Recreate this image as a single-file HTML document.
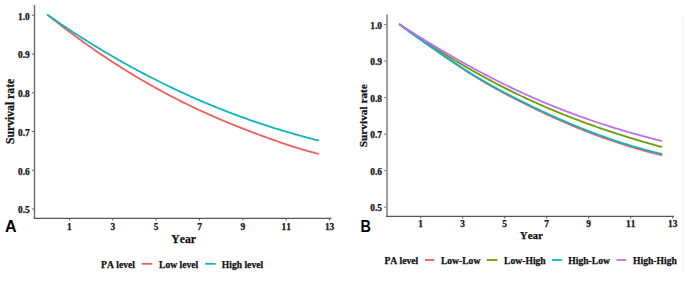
<!DOCTYPE html>
<html><head><meta charset="utf-8"><style>
html,body{margin:0;padding:0;background:#fff;}
body{width:685px;height:290px;overflow:hidden;}
svg{display:block;}
.s{font-family:"Liberation Serif",serif;font-weight:bold;fill:#111;stroke:#111;stroke-width:0.25px;font-kerning:none;}
.tk{font-size:9.4px;}
.lab{font-size:11.7px;}
.lg{font-size:9.6px;}
.pan{font-family:"Liberation Sans",sans-serif;font-weight:bold;font-size:16px;fill:#000;}
</style></head><body>
<svg width="685" height="290" viewBox="0 0 685 290">
<rect width="685" height="290" fill="#fff"/>

<line x1="34.5" y1="5" x2="34.5" y2="219" stroke="#6a6a6a" stroke-width="1.4"/>
<line x1="33.8" y1="218.4" x2="331.5" y2="218.4" stroke="#555" stroke-width="1.3"/>
<line x1="31.8" y1="15.30" x2="34" y2="15.30" stroke="#666" stroke-width="1"/>
<text class="s tk" x="29.8" y="19.60" text-anchor="end">1.0</text>
<line x1="31.8" y1="54.04" x2="34" y2="54.04" stroke="#666" stroke-width="1"/>
<text class="s tk" x="29.8" y="58.34" text-anchor="end">0.9</text>
<line x1="31.8" y1="92.78" x2="34" y2="92.78" stroke="#666" stroke-width="1"/>
<text class="s tk" x="29.8" y="97.08" text-anchor="end">0.8</text>
<line x1="31.8" y1="131.52" x2="34" y2="131.52" stroke="#666" stroke-width="1"/>
<text class="s tk" x="29.8" y="135.82" text-anchor="end">0.7</text>
<line x1="31.8" y1="170.26" x2="34" y2="170.26" stroke="#666" stroke-width="1"/>
<text class="s tk" x="29.8" y="174.56" text-anchor="end">0.6</text>
<line x1="31.8" y1="209.00" x2="34" y2="209.00" stroke="#666" stroke-width="1"/>
<text class="s tk" x="29.8" y="213.30" text-anchor="end">0.5</text>
<line x1="69.43" y1="218.5" x2="69.43" y2="220.5" stroke="#555" stroke-width="1"/>
<text class="s tk" x="69.43" y="229.9" text-anchor="middle">1</text>
<line x1="112.79" y1="218.5" x2="112.79" y2="220.5" stroke="#555" stroke-width="1"/>
<text class="s tk" x="112.79" y="229.9" text-anchor="middle">3</text>
<line x1="156.15" y1="218.5" x2="156.15" y2="220.5" stroke="#555" stroke-width="1"/>
<text class="s tk" x="156.15" y="229.9" text-anchor="middle">5</text>
<line x1="199.51" y1="218.5" x2="199.51" y2="220.5" stroke="#555" stroke-width="1"/>
<text class="s tk" x="199.51" y="229.9" text-anchor="middle">7</text>
<line x1="242.87" y1="218.5" x2="242.87" y2="220.5" stroke="#555" stroke-width="1"/>
<text class="s tk" x="242.87" y="229.9" text-anchor="middle">9</text>
<line x1="286.23" y1="218.5" x2="286.23" y2="220.5" stroke="#555" stroke-width="1"/>
<text class="s tk" x="286.23" y="229.9" text-anchor="middle">11</text>
<line x1="329.59" y1="218.5" x2="329.59" y2="220.5" stroke="#555" stroke-width="1"/>
<text class="s tk" x="329.59" y="229.9" text-anchor="middle">13</text>
<text class="s lab" x="183.6" y="242.8" text-anchor="middle">Year</text>
<text class="s lab" transform="translate(13.6,111.4) rotate(-90)" text-anchor="middle">Survival rate</text>
<text class="pan" x="5" y="231.6">A</text>
<path d="M47.70,14.89 L49.20,16.10 L50.70,17.29 L52.20,18.48 L53.70,19.67 L55.20,20.85 L56.70,22.03 L58.20,23.20 L59.70,24.36 L61.20,25.52 L62.70,26.67 L64.20,27.82 L65.70,28.96 L67.20,30.10 L68.70,31.23 L70.20,32.35 L71.70,33.47 L73.20,34.59 L74.70,35.70 L76.20,36.80 L77.70,37.90 L79.20,38.99 L80.70,40.08 L82.20,41.16 L83.70,42.24 L85.20,43.31 L86.70,44.38 L88.20,45.44 L89.70,46.50 L91.20,47.55 L92.70,48.60 L94.20,49.64 L95.70,50.67 L97.20,51.70 L98.70,52.72 L100.20,53.74 L101.70,54.76 L103.20,55.77 L104.70,56.77 L106.20,57.77 L107.70,58.76 L109.20,59.75 L110.70,60.73 L112.20,61.71 L113.70,62.69 L115.20,63.65 L116.70,64.62 L118.20,65.57 L119.70,66.53 L121.20,67.47 L122.70,68.42 L124.20,69.35 L125.70,70.29 L127.20,71.21 L128.70,72.14 L130.20,73.05 L131.70,73.96 L133.20,74.87 L134.70,75.77 L136.20,76.67 L137.70,77.56 L139.20,78.45 L140.70,79.33 L142.20,80.21 L143.70,81.08 L145.20,81.95 L146.70,82.81 L148.20,83.67 L149.70,84.53 L151.20,85.37 L152.70,86.22 L154.20,87.06 L155.70,87.89 L157.20,88.72 L158.70,89.54 L160.20,90.36 L161.70,91.18 L163.20,91.99 L164.70,92.79 L166.20,93.59 L167.70,94.39 L169.20,95.18 L170.70,95.96 L172.20,96.74 L173.70,97.52 L175.20,98.29 L176.70,99.06 L178.20,99.82 L179.70,100.58 L181.20,101.33 L182.70,102.08 L184.20,102.82 L185.70,103.56 L187.20,104.30 L188.70,105.03 L190.20,105.75 L191.70,106.47 L193.20,107.19 L194.70,107.90 L196.20,108.61 L197.70,109.31 L199.20,110.01 L200.70,110.70 L202.20,111.39 L203.70,112.08 L205.20,112.76 L206.70,113.44 L208.20,114.11 L209.70,114.78 L211.20,115.44 L212.70,116.10 L214.20,116.76 L215.70,117.41 L217.20,118.06 L218.70,118.70 L220.20,119.34 L221.70,119.98 L223.20,120.61 L224.70,121.24 L226.20,121.86 L227.70,122.48 L229.20,123.10 L230.70,123.72 L232.20,124.33 L233.70,124.94 L235.20,125.54 L236.70,126.14 L238.20,126.74 L239.70,127.33 L241.20,127.92 L242.70,128.51 L244.20,129.10 L245.70,129.68 L247.20,130.26 L248.70,130.83 L250.20,131.40 L251.70,131.97 L253.20,132.54 L254.70,133.10 L256.20,133.66 L257.70,134.22 L259.20,134.78 L260.70,135.33 L262.20,135.88 L263.70,136.43 L265.20,136.97 L266.70,137.52 L268.20,138.06 L269.70,138.59 L271.20,139.13 L272.70,139.66 L274.20,140.19 L275.70,140.72 L277.20,141.25 L278.70,141.77 L280.20,142.28 L281.70,142.80 L283.20,143.31 L284.70,143.82 L286.20,144.32 L287.70,144.82 L289.20,145.31 L290.70,145.80 L292.20,146.29 L293.70,146.77 L295.20,147.24 L296.70,147.71 L298.20,148.18 L299.70,148.64 L301.20,149.09 L302.70,149.54 L304.20,149.98 L305.70,150.42 L307.20,150.85 L308.70,151.27 L310.20,151.68 L311.70,152.09 L313.20,152.49 L314.70,152.89 L316.20,153.28 L317.70,153.66 L318.30,153.81" fill="none" stroke="#EE5E5A" stroke-width="1.8" stroke-linejoin="round" stroke-linecap="round"/>
<path d="M47.70,14.90 L49.20,15.95 L50.70,16.99 L52.20,18.03 L53.70,19.07 L55.20,20.10 L56.70,21.13 L58.20,22.15 L59.70,23.17 L61.20,24.19 L62.70,25.20 L64.20,26.21 L65.70,27.21 L67.20,28.21 L68.70,29.20 L70.20,30.19 L71.70,31.18 L73.20,32.16 L74.70,33.14 L76.20,34.11 L77.70,35.08 L79.20,36.04 L80.70,37.00 L82.20,37.96 L83.70,38.91 L85.20,39.86 L86.70,40.80 L88.20,41.74 L89.70,42.68 L91.20,43.61 L92.70,44.54 L94.20,45.46 L95.70,46.38 L97.20,47.29 L98.70,48.20 L100.20,49.11 L101.70,50.01 L103.20,50.91 L104.70,51.80 L106.20,52.69 L107.70,53.58 L109.20,54.46 L110.70,55.34 L112.20,56.21 L113.70,57.08 L115.20,57.95 L116.70,58.81 L118.20,59.67 L119.70,60.52 L121.20,61.37 L122.70,62.22 L124.20,63.06 L125.70,63.89 L127.20,64.73 L128.70,65.56 L130.20,66.38 L131.70,67.20 L133.20,68.02 L134.70,68.83 L136.20,69.64 L137.70,70.45 L139.20,71.25 L140.70,72.05 L142.20,72.84 L143.70,73.63 L145.20,74.42 L146.70,75.20 L148.20,75.98 L149.70,76.75 L151.20,77.52 L152.70,78.29 L154.20,79.05 L155.70,79.81 L157.20,80.57 L158.70,81.32 L160.20,82.06 L161.70,82.81 L163.20,83.55 L164.70,84.28 L166.20,85.01 L167.70,85.74 L169.20,86.46 L170.70,87.18 L172.20,87.90 L173.70,88.61 L175.20,89.32 L176.70,90.03 L178.20,90.73 L179.70,91.43 L181.20,92.12 L182.70,92.81 L184.20,93.50 L185.70,94.18 L187.20,94.86 L188.70,95.53 L190.20,96.20 L191.70,96.87 L193.20,97.53 L194.70,98.19 L196.20,98.85 L197.70,99.50 L199.20,100.15 L200.70,100.80 L202.20,101.44 L203.70,102.08 L205.20,102.71 L206.70,103.34 L208.20,103.97 L209.70,104.59 L211.20,105.21 L212.70,105.83 L214.20,106.44 L215.70,107.05 L217.20,107.65 L218.70,108.25 L220.20,108.85 L221.70,109.45 L223.20,110.04 L224.70,110.62 L226.20,111.21 L227.70,111.79 L229.20,112.36 L230.70,112.94 L232.20,113.50 L233.70,114.07 L235.20,114.63 L236.70,115.19 L238.20,115.75 L239.70,116.30 L241.20,116.84 L242.70,117.39 L244.20,117.93 L245.70,118.47 L247.20,119.00 L248.70,119.53 L250.20,120.06 L251.70,120.58 L253.20,121.10 L254.70,121.62 L256.20,122.13 L257.70,122.64 L259.20,123.15 L260.70,123.65 L262.20,124.15 L263.70,124.65 L265.20,125.14 L266.70,125.63 L268.20,126.11 L269.70,126.60 L271.20,127.08 L272.70,127.55 L274.20,128.02 L275.70,128.49 L277.20,128.96 L278.70,129.42 L280.20,129.88 L281.70,130.33 L283.20,130.79 L284.70,131.23 L286.20,131.68 L287.70,132.12 L289.20,132.56 L290.70,133.00 L292.20,133.43 L293.70,133.86 L295.20,134.28 L296.70,134.70 L298.20,135.12 L299.70,135.54 L301.20,135.95 L302.70,136.36 L304.20,136.77 L305.70,137.17 L307.20,137.57 L308.70,137.96 L310.20,138.36 L311.70,138.75 L313.20,139.13 L314.70,139.52 L316.20,139.90 L317.70,140.27 L318.30,140.42" fill="none" stroke="#0EB5C0" stroke-width="1.8" stroke-linejoin="round" stroke-linecap="round"/>
<text class="s lg" x="101.1" y="267.6">PA level</text>
<line x1="141.7" y1="263.8" x2="152.2" y2="263.8" stroke="#EE5E5A" stroke-width="1.8"/>
<text class="s lg" x="159.1" y="267.6">Low level</text>
<line x1="205.2" y1="263.8" x2="215.7" y2="263.8" stroke="#0EB5C0" stroke-width="1.8"/>
<text class="s lg" x="221.8" y="267.6">High level</text>
<line x1="387" y1="14.5" x2="387" y2="217" stroke="#9e9e9e" stroke-width="2"/>
<line x1="386" y1="216.4" x2="674" y2="216.4" stroke="#555" stroke-width="1.3"/>
<line x1="384.3" y1="24.60" x2="386" y2="24.60" stroke="#666" stroke-width="1"/>
<text class="s tk" x="382" y="28.80" text-anchor="end">1.0</text>
<line x1="384.3" y1="61.12" x2="386" y2="61.12" stroke="#666" stroke-width="1"/>
<text class="s tk" x="382" y="65.32" text-anchor="end">0.9</text>
<line x1="384.3" y1="97.64" x2="386" y2="97.64" stroke="#666" stroke-width="1"/>
<text class="s tk" x="382" y="101.84" text-anchor="end">0.8</text>
<line x1="384.3" y1="134.16" x2="386" y2="134.16" stroke="#666" stroke-width="1"/>
<text class="s tk" x="382" y="138.36" text-anchor="end">0.7</text>
<line x1="384.3" y1="170.68" x2="386" y2="170.68" stroke="#666" stroke-width="1"/>
<text class="s tk" x="382" y="174.88" text-anchor="end">0.6</text>
<line x1="384.3" y1="207.20" x2="386" y2="207.20" stroke="#666" stroke-width="1"/>
<text class="s tk" x="382" y="211.40" text-anchor="end">0.5</text>
<line x1="420.70" y1="216.5" x2="420.70" y2="218.5" stroke="#555" stroke-width="1"/>
<text class="s tk" x="420.70" y="226.9" text-anchor="middle">1</text>
<line x1="462.70" y1="216.5" x2="462.70" y2="218.5" stroke="#555" stroke-width="1"/>
<text class="s tk" x="462.70" y="226.9" text-anchor="middle">3</text>
<line x1="504.70" y1="216.5" x2="504.70" y2="218.5" stroke="#555" stroke-width="1"/>
<text class="s tk" x="504.70" y="226.9" text-anchor="middle">5</text>
<line x1="546.70" y1="216.5" x2="546.70" y2="218.5" stroke="#555" stroke-width="1"/>
<text class="s tk" x="546.70" y="226.9" text-anchor="middle">7</text>
<line x1="588.70" y1="216.5" x2="588.70" y2="218.5" stroke="#555" stroke-width="1"/>
<text class="s tk" x="588.70" y="226.9" text-anchor="middle">9</text>
<line x1="630.70" y1="216.5" x2="630.70" y2="218.5" stroke="#555" stroke-width="1"/>
<text class="s tk" x="630.70" y="226.9" text-anchor="middle">11</text>
<line x1="672.70" y1="216.5" x2="672.70" y2="218.5" stroke="#555" stroke-width="1"/>
<text class="s tk" x="672.70" y="226.9" text-anchor="middle">13</text>
<text class="s" style="font-size:11px" x="531.4" y="239.3" text-anchor="middle">Year</text>
<text class="s" style="font-size:11.3px" transform="translate(366.6,115.7) rotate(-90)" text-anchor="middle">Survival rate</text>
<text class="pan" transform="translate(360.4,231.9) scale(0.9,1)">B</text>
<path d="M399.70,24.40 L401.20,25.57 L402.70,26.73 L404.20,27.87 L405.70,29.00 L407.20,30.11 L408.70,31.22 L410.20,32.32 L411.70,33.40 L413.20,34.48 L414.70,35.56 L416.20,36.63 L417.70,37.69 L419.20,38.75 L420.70,39.81 L422.20,40.86 L423.70,41.92 L425.20,42.97 L426.70,44.03 L428.20,45.08 L429.70,46.14 L431.20,47.20 L432.70,48.25 L434.20,49.31 L435.70,50.36 L437.20,51.41 L438.70,52.47 L440.20,53.52 L441.70,54.56 L443.20,55.61 L444.70,56.65 L446.20,57.69 L447.70,58.72 L449.20,59.75 L450.70,60.78 L452.20,61.80 L453.70,62.82 L455.20,63.83 L456.70,64.84 L458.20,65.84 L459.70,66.83 L461.20,67.82 L462.70,68.80 L464.20,69.77 L465.70,70.74 L467.20,71.70 L468.70,72.65 L470.20,73.59 L471.70,74.53 L473.20,75.46 L474.70,76.38 L476.20,77.29 L477.70,78.20 L479.20,79.10 L480.70,80.00 L482.20,80.89 L483.70,81.77 L485.20,82.64 L486.70,83.51 L488.20,84.38 L489.70,85.23 L491.20,86.09 L492.70,86.93 L494.20,87.77 L495.70,88.60 L497.20,89.43 L498.70,90.26 L500.20,91.07 L501.70,91.89 L503.20,92.70 L504.70,93.50 L506.20,94.30 L507.70,95.09 L509.20,95.88 L510.70,96.66 L512.20,97.44 L513.70,98.22 L515.20,98.99 L516.70,99.76 L518.20,100.52 L519.70,101.28 L521.20,102.03 L522.70,102.79 L524.20,103.53 L525.70,104.28 L527.20,105.02 L528.70,105.76 L530.20,106.49 L531.70,107.23 L533.20,107.95 L534.70,108.68 L536.20,109.40 L537.70,110.12 L539.20,110.83 L540.70,111.54 L542.20,112.24 L543.70,112.95 L545.20,113.65 L546.70,114.34 L548.20,115.03 L549.70,115.72 L551.20,116.41 L552.70,117.09 L554.20,117.76 L555.70,118.44 L557.20,119.11 L558.70,119.77 L560.20,120.43 L561.70,121.09 L563.20,121.74 L564.70,122.39 L566.20,123.04 L567.70,123.68 L569.20,124.32 L570.70,124.95 L572.20,125.58 L573.70,126.21 L575.20,126.83 L576.70,127.45 L578.20,128.06 L579.70,128.67 L581.20,129.28 L582.70,129.88 L584.20,130.48 L585.70,131.07 L587.20,131.66 L588.70,132.24 L590.20,132.82 L591.70,133.40 L593.20,133.97 L594.70,134.54 L596.20,135.10 L597.70,135.66 L599.20,136.22 L600.70,136.76 L602.20,137.31 L603.70,137.85 L605.20,138.39 L606.70,138.92 L608.20,139.45 L609.70,139.97 L611.20,140.49 L612.70,141.00 L614.20,141.51 L615.70,142.02 L617.20,142.52 L618.70,143.01 L620.20,143.50 L621.70,143.99 L623.20,144.47 L624.70,144.95 L626.20,145.42 L627.70,145.89 L629.20,146.35 L630.70,146.81 L632.20,147.26 L633.70,147.71 L635.20,148.15 L636.70,148.59 L638.20,149.02 L639.70,149.45 L641.20,149.87 L642.70,150.29 L644.20,150.71 L645.70,151.11 L647.20,151.52 L648.70,151.92 L650.20,152.31 L651.70,152.70 L653.20,153.08 L654.70,153.46 L656.20,153.83 L657.70,154.20 L659.20,154.56 L660.70,154.92 L661.50,155.11" fill="none" stroke="#EE5E5A" stroke-width="1.8" stroke-linejoin="round" stroke-linecap="round"/>
<path d="M399.70,24.40 L401.20,25.45 L402.70,26.51 L404.20,27.55 L405.70,28.60 L407.20,29.63 L408.70,30.67 L410.20,31.70 L411.70,32.72 L413.20,33.75 L414.70,34.76 L416.20,35.77 L417.70,36.78 L419.20,37.79 L420.70,38.78 L422.20,39.78 L423.70,40.77 L425.20,41.76 L426.70,42.74 L428.20,43.72 L429.70,44.69 L431.20,45.66 L432.70,46.62 L434.20,47.58 L435.70,48.54 L437.20,49.49 L438.70,50.44 L440.20,51.38 L441.70,52.32 L443.20,53.25 L444.70,54.18 L446.20,55.11 L447.70,56.03 L449.20,56.95 L450.70,57.86 L452.20,58.77 L453.70,59.67 L455.20,60.57 L456.70,61.47 L458.20,62.36 L459.70,63.25 L461.20,64.13 L462.70,65.01 L464.20,65.88 L465.70,66.75 L467.20,67.62 L468.70,68.48 L470.20,69.34 L471.70,70.19 L473.20,71.04 L474.70,71.88 L476.20,72.72 L477.70,73.56 L479.20,74.39 L480.70,75.22 L482.20,76.04 L483.70,76.86 L485.20,77.68 L486.70,78.49 L488.20,79.30 L489.70,80.10 L491.20,80.90 L492.70,81.69 L494.20,82.48 L495.70,83.27 L497.20,84.05 L498.70,84.83 L500.20,85.60 L501.70,86.37 L503.20,87.14 L504.70,87.90 L506.20,88.65 L507.70,89.41 L509.20,90.15 L510.70,90.90 L512.20,91.64 L513.70,92.37 L515.20,93.11 L516.70,93.83 L518.20,94.56 L519.70,95.28 L521.20,95.99 L522.70,96.70 L524.20,97.41 L525.70,98.12 L527.20,98.81 L528.70,99.51 L530.20,100.20 L531.70,100.89 L533.20,101.57 L534.70,102.25 L536.20,102.92 L537.70,103.59 L539.20,104.26 L540.70,104.92 L542.20,105.58 L543.70,106.23 L545.20,106.88 L546.70,107.53 L548.20,108.17 L549.70,108.81 L551.20,109.45 L552.70,110.08 L554.20,110.70 L555.70,111.32 L557.20,111.94 L558.70,112.56 L560.20,113.17 L561.70,113.78 L563.20,114.38 L564.70,114.98 L566.20,115.57 L567.70,116.17 L569.20,116.75 L570.70,117.34 L572.20,117.92 L573.70,118.50 L575.20,119.07 L576.70,119.64 L578.20,120.21 L579.70,120.77 L581.20,121.33 L582.70,121.89 L584.20,122.44 L585.70,122.99 L587.20,123.54 L588.70,124.08 L590.20,124.62 L591.70,125.16 L593.20,125.69 L594.70,126.22 L596.20,126.75 L597.70,127.27 L599.20,127.79 L600.70,128.31 L602.20,128.82 L603.70,129.33 L605.20,129.84 L606.70,130.34 L608.20,130.84 L609.70,131.34 L611.20,131.84 L612.70,132.33 L614.20,132.82 L615.70,133.31 L617.20,133.79 L618.70,134.27 L620.20,134.75 L621.70,135.22 L623.20,135.70 L624.70,136.17 L626.20,136.63 L627.70,137.10 L629.20,137.56 L630.70,138.02 L632.20,138.48 L633.70,138.93 L635.20,139.38 L636.70,139.83 L638.20,140.27 L639.70,140.72 L641.20,141.16 L642.70,141.60 L644.20,142.03 L645.70,142.47 L647.20,142.90 L648.70,143.33 L650.20,143.75 L651.70,144.18 L653.20,144.60 L654.70,145.02 L656.20,145.44 L657.70,145.85 L659.20,146.27 L660.70,146.68 L661.50,146.89" fill="none" stroke="#6A9F06" stroke-width="1.8" stroke-linejoin="round" stroke-linecap="round"/>
<path d="M399.70,24.40 L401.20,25.55 L402.70,26.68 L404.20,27.80 L405.70,28.91 L407.20,30.01 L408.70,31.10 L410.20,32.18 L411.70,33.26 L413.20,34.32 L414.70,35.38 L416.20,36.44 L417.70,37.49 L419.20,38.54 L420.70,39.58 L422.20,40.63 L423.70,41.67 L425.20,42.71 L426.70,43.76 L428.20,44.80 L429.70,45.84 L431.20,46.89 L432.70,47.93 L434.20,48.98 L435.70,50.02 L437.20,51.06 L438.70,52.10 L440.20,53.14 L441.70,54.17 L443.20,55.21 L444.70,56.24 L446.20,57.26 L447.70,58.29 L449.20,59.31 L450.70,60.32 L452.20,61.33 L453.70,62.34 L455.20,63.34 L456.70,64.33 L458.20,65.32 L459.70,66.31 L461.20,67.28 L462.70,68.25 L464.20,69.21 L465.70,70.17 L467.20,71.12 L468.70,72.06 L470.20,72.99 L471.70,73.92 L473.20,74.84 L474.70,75.75 L476.20,76.66 L477.70,77.55 L479.20,78.45 L480.70,79.33 L482.20,80.21 L483.70,81.08 L485.20,81.95 L486.70,82.81 L488.20,83.66 L489.70,84.51 L491.20,85.35 L492.70,86.19 L494.20,87.02 L495.70,87.85 L497.20,88.67 L498.70,89.48 L500.20,90.29 L501.70,91.10 L503.20,91.90 L504.70,92.69 L506.20,93.48 L507.70,94.27 L509.20,95.05 L510.70,95.82 L512.20,96.60 L513.70,97.36 L515.20,98.13 L516.70,98.89 L518.20,99.64 L519.70,100.39 L521.20,101.14 L522.70,101.89 L524.20,102.63 L525.70,103.37 L527.20,104.10 L528.70,104.83 L530.20,105.56 L531.70,106.28 L533.20,107.01 L534.70,107.72 L536.20,108.44 L537.70,109.15 L539.20,109.85 L540.70,110.56 L542.20,111.26 L543.70,111.95 L545.20,112.65 L546.70,113.34 L548.20,114.02 L549.70,114.70 L551.20,115.38 L552.70,116.06 L554.20,116.73 L555.70,117.40 L557.20,118.06 L558.70,118.72 L560.20,119.38 L561.70,120.03 L563.20,120.68 L564.70,121.32 L566.20,121.96 L567.70,122.60 L569.20,123.23 L570.70,123.86 L572.20,124.49 L573.70,125.11 L575.20,125.73 L576.70,126.34 L578.20,126.95 L579.70,127.55 L581.20,128.16 L582.70,128.75 L584.20,129.35 L585.70,129.94 L587.20,130.52 L588.70,131.10 L590.20,131.68 L591.70,132.25 L593.20,132.82 L594.70,133.38 L596.20,133.94 L597.70,134.50 L599.20,135.05 L600.70,135.60 L602.20,136.14 L603.70,136.68 L605.20,137.21 L606.70,137.74 L608.20,138.27 L609.70,138.79 L611.20,139.30 L612.70,139.81 L614.20,140.32 L615.70,140.82 L617.20,141.32 L618.70,141.82 L620.20,142.31 L621.70,142.79 L623.20,143.27 L624.70,143.75 L626.20,144.22 L627.70,144.68 L629.20,145.14 L630.70,145.60 L632.20,146.05 L633.70,146.50 L635.20,146.94 L636.70,147.38 L638.20,147.81 L639.70,148.24 L641.20,148.66 L642.70,149.08 L644.20,149.50 L645.70,149.91 L647.20,150.31 L648.70,150.71 L650.20,151.10 L651.70,151.49 L653.20,151.87 L654.70,152.25 L656.20,152.63 L657.70,153.00 L659.20,153.36 L660.70,153.72 L661.50,153.91" fill="none" stroke="#0EB5C0" stroke-width="1.8" stroke-linejoin="round" stroke-linecap="round"/>
<path d="M399.70,24.39 L401.20,25.36 L402.70,26.33 L404.20,27.29 L405.70,28.25 L407.20,29.21 L408.70,30.16 L410.20,31.11 L411.70,32.06 L413.20,33.00 L414.70,33.95 L416.20,34.89 L417.70,35.82 L419.20,36.75 L420.70,37.68 L422.20,38.61 L423.70,39.54 L425.20,40.46 L426.70,41.37 L428.20,42.29 L429.70,43.20 L431.20,44.11 L432.70,45.02 L434.20,45.92 L435.70,46.82 L437.20,47.71 L438.70,48.61 L440.20,49.49 L441.70,50.38 L443.20,51.26 L444.70,52.14 L446.20,53.02 L447.70,53.89 L449.20,54.76 L450.70,55.63 L452.20,56.49 L453.70,57.35 L455.20,58.21 L456.70,59.06 L458.20,59.91 L459.70,60.76 L461.20,61.60 L462.70,62.44 L464.20,63.28 L465.70,64.11 L467.20,64.94 L468.70,65.76 L470.20,66.58 L471.70,67.40 L473.20,68.22 L474.70,69.03 L476.20,69.84 L477.70,70.64 L479.20,71.44 L480.70,72.24 L482.20,73.03 L483.70,73.82 L485.20,74.61 L486.70,75.39 L488.20,76.17 L489.70,76.94 L491.20,77.71 L492.70,78.48 L494.20,79.24 L495.70,80.00 L497.20,80.76 L498.70,81.51 L500.20,82.26 L501.70,83.00 L503.20,83.74 L504.70,84.48 L506.20,85.21 L507.70,85.94 L509.20,86.67 L510.70,87.39 L512.20,88.10 L513.70,88.82 L515.20,89.53 L516.70,90.23 L518.20,90.93 L519.70,91.63 L521.20,92.32 L522.70,93.01 L524.20,93.70 L525.70,94.38 L527.20,95.05 L528.70,95.73 L530.20,96.40 L531.70,97.06 L533.20,97.72 L534.70,98.38 L536.20,99.03 L537.70,99.68 L539.20,100.32 L540.70,100.96 L542.20,101.60 L543.70,102.23 L545.20,102.86 L546.70,103.49 L548.20,104.11 L549.70,104.72 L551.20,105.34 L552.70,105.95 L554.20,106.55 L555.70,107.15 L557.20,107.75 L558.70,108.35 L560.20,108.94 L561.70,109.52 L563.20,110.11 L564.70,110.68 L566.20,111.26 L567.70,111.83 L569.20,112.40 L570.70,112.96 L572.20,113.53 L573.70,114.08 L575.20,114.64 L576.70,115.19 L578.20,115.73 L579.70,116.27 L581.20,116.81 L582.70,117.35 L584.20,117.88 L585.70,118.41 L587.20,118.94 L588.70,119.46 L590.20,119.98 L591.70,120.49 L593.20,121.00 L594.70,121.51 L596.20,122.01 L597.70,122.52 L599.20,123.01 L600.70,123.51 L602.20,124.00 L603.70,124.49 L605.20,124.97 L606.70,125.45 L608.20,125.93 L609.70,126.40 L611.20,126.88 L612.70,127.34 L614.20,127.81 L615.70,128.27 L617.20,128.73 L618.70,129.18 L620.20,129.63 L621.70,130.08 L623.20,130.53 L624.70,130.97 L626.20,131.41 L627.70,131.85 L629.20,132.28 L630.70,132.71 L632.20,133.14 L633.70,133.56 L635.20,133.98 L636.70,134.40 L638.20,134.82 L639.70,135.23 L641.20,135.64 L642.70,136.04 L644.20,136.45 L645.70,136.85 L647.20,137.24 L648.70,137.64 L650.20,138.03 L651.70,138.42 L653.20,138.81 L654.70,139.19 L656.20,139.57 L657.70,139.95 L659.20,140.32 L660.70,140.69 L661.50,140.89" fill="none" stroke="#BF6EF3" stroke-width="1.8" stroke-linejoin="round" stroke-linecap="round"/>
<text class="s lg" x="384.4" y="264">PA level</text>
<line x1="425" y1="260" x2="434.3" y2="260" stroke="#EE5E5A" stroke-width="1.8"/>
<text class="s lg" x="440.9" y="264">Low-Low</text>
<line x1="486.7" y1="260" x2="497.5" y2="260" stroke="#6A9F06" stroke-width="1.8"/>
<text class="s lg" x="504.1" y="264">Low-High</text>
<line x1="552" y1="260" x2="561.9" y2="260" stroke="#0EB5C0" stroke-width="1.8"/>
<text class="s lg" x="568.3" y="264">High-Low</text>
<line x1="616.4" y1="260" x2="626.3" y2="260" stroke="#BF6EF3" stroke-width="1.8"/>
<text class="s lg" x="633.1" y="264">High-High</text>
<line x1="683.3" y1="19" x2="683.3" y2="273" stroke="#f4f4f4" stroke-width="1"/>
</svg></body></html>
